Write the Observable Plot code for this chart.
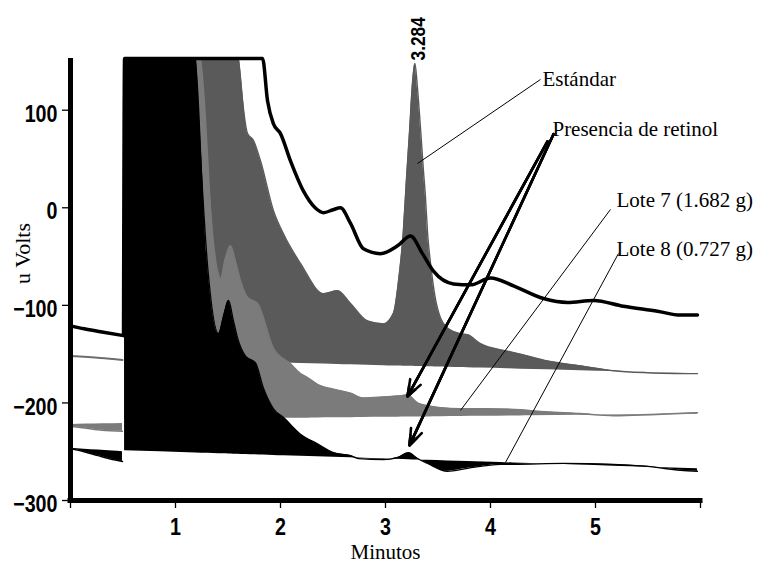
<!DOCTYPE html>
<html>
<head>
<meta charset="utf-8">
<script src="https://cdn.jsdelivr.net/npm/d3@7"></script>
<script src="https://cdn.jsdelivr.net/npm/@observablehq/plot@0.6"></script>
<style>
  html, body { margin: 0; padding: 0; background: #fff; }
</style>
</head>
<body>
<div id="chart"></div>
<script>
// ---------- axes ----------
const xTickValues = [0, 1, 2, 3, 4, 5, 6];
const xLabelValues = [1, 2, 3, 4, 5];
const yTickValues = [-300, -200, -100, 0, 100];
const xTitle = "Minutos";
const yTitle = "u Volts";

// ---------- traces: [minutos, uVolts] ----------
// upper black outline trace (unlabelled)
const trazoNegroPre = [[0, -121], [0.13, -124], [0.286, -127], [0.505, -131]];
const trazoNegro = [[0.505, -131], [0.515, 153], [1.829, 153], [1.876, 110], [1.933, 86], [2.0, 76],
  [2.095, 48], [2.219, 17], [2.33, 0], [2.41, -5], [2.5, -2], [2.571, 0], [2.667, -16], [2.79, -42], [2.952, -47],
  [3.114, -39], [3.238, -29], [3.352, -47], [3.457, -65], [3.648, -78], [3.81, -79], [4.0, -72],
  [4.219, -80], [4.505, -93], [4.733, -97], [4.981, -95], [5.267, -101], [5.59, -106], [5.81, -110], [5.971, -110]];

// Estándar (dark grey)
const estandarPre = [[0, -152], [0.286, -154], [0.495, -156]];
const estandar = [[0.515, 153], [1.6, 153], [1.686, 76], [1.743, 69], [1.81, 48], [1.933, -3], [2.029, -27],
  [2.19, -57], [2.41, -88], [2.543, -85], [2.667, -98], [2.829, -116], [2.981, -119], [3.076, -108],
  [3.124, -75], [3.17, -24], [3.2, 30], [3.23, 80], [3.255, 125], [3.28, 148], [3.305, 122], [3.335, 79],
  [3.36, 40], [3.381, 10], [3.40, -25], [3.429, -57], [3.47, -90], [3.524, -113], [3.6, -124], [3.714, -129],
  [3.781, -130], [3.9, -139], [4.162, -147], [4.286, -150], [4.543, -157], [4.857, -162], [5.171, -167],
  [5.495, -169], [5.971, -170]];
const estandarBase = [[0.515, -155], [5.971, -170]];

// Lote 7 (light grey)
const lote7Pre = [[0, -224], [0.15, -226], [0.3, -228], [0.495, -229]];
const lote7PreBase = [[0, -222], [0.495, -221]];
const lote7 = [[0.515, 153], [1.238, 153], [1.4, -65], [1.429, -73], [1.475, -52], [1.524, -39], [1.57, -55],
  [1.619, -75], [1.686, -92], [1.781, -98], [1.933, -144], [2.095, -160], [2.19, -170], [2.257, -174],
  [2.352, -181], [2.505, -186], [2.667, -190], [2.79, -195], [2.981, -194], [3.114, -193], [3.21, -192],
  [3.305, -200], [3.4, -203], [3.524, -205], [3.714, -206], [3.933, -206], [4.286, -207], [4.381, -208],
  [4.857, -211], [5.171, -213], [5.524, -212], [5.971, -210]];
const lote7Base = [[0.515, -217.5], [5.971, -211.5]];

// Lote 8 (black)
const lote8Pre = [[0, -247], [0.13, -250], [0.26, -254], [0.4, -258], [0.495, -260]];
const lote8PreBase = [[0, -246.5], [0.495, -250]];
const lote8 = [[0.515, 153], [1.19, 153], [1.31, -65], [1.41, -129], [1.46, -110], [1.505, -95], [1.55, -115],
  [1.59, -133], [1.667, -152], [1.762, -159], [1.838, -185], [1.933, -206], [2.029, -215], [2.19, -232],
  [2.352, -242], [2.505, -251], [2.667, -254], [2.743, -257], [2.981, -258], [3.114, -256], [3.219, -251],
  [3.305, -257], [3.4, -262], [3.59, -270], [3.781, -267], [4.095, -263], [4.219, -263], [4.695, -262],
  [5.171, -263], [5.495, -265], [5.81, -269], [5.971, -270]];
const lote8Base = [[0.515, -249], [5.971, -267.5]];

// ---------- annotations ----------
const picoTiempo = 3.284;
const picoAltura = 148;
const etiquetas = ["Estándar", "Presencia de retinol", "Lote 7 (1.682 g)", "Lote 8 (0.727 g)"];
const etiquetaX = [4.495, 4.59, 5.2, 5.2];
const etiquetaY = [125.3, 73.1, 1.3, -49.5];
const guiaDesde = [[4.476, 131.5], [5.143, -1.7], [5.219, -46.8]];
const guiaHasta = [[3.305, 45.4], [3.714, -207.7], [4.143, -261]];
const flechaDesde = [[4.543, 68.1], [4.6, 75.4]];
const flechaHasta = [[3.210, -193.2], [3.229, -243.5]];

// ---------- helpers ----------
function conBase(points, base) {
  const s = d3.scaleLinear().domain([base[0][0], base[1][0]]).range([base[0][1], base[1][1]]);
  return points.map(([x, y]) => ({x, y, b: s(x)}));
}
const pts = arr => arr.map(([x, y]) => ({x, y}));

const GRIS_OSCURO = "#5a5a5a";
const GRIS_CLARO = "#7b7b7b";
const fontTicks = '"Liberation Sans", Arial, sans-serif';
const fontSerif = '"Liberation Serif", "Times New Roman", serif';
const CURVA = "monotone-x";

const areaOpts = (fill) => ({x: "x", y1: "b", y2: "y", fill, curve: CURVA});
const lineOpts = (stroke, w) => ({x: "x", y: "y", stroke, strokeWidth: w, curve: CURVA, strokeLinejoin: "round"});
const flechas = (len) => Plot.arrow(d3.range(flechaDesde.length), {x1: i => flechaDesde[i][0], y1: i => flechaDesde[i][1],
  x2: i => flechaHasta[i][0], y2: i => flechaHasta[i][1], stroke: "#000", strokeWidth: 2.6,
  headLength: len, headAngle: 40});

const chart = Plot.plot({
  width: 757,
  height: 569,
  marginLeft: 70,
  marginRight: 57,
  marginTop: 58,
  marginBottom: 69,
  x: {domain: [0, 6], label: null},
  y: {domain: [-300, 153], label: null},
  marks: [
    // Estándar
    Plot.areaY(conBase(estandar, estandarBase), areaOpts(GRIS_OSCURO)),
    Plot.line(pts(estandar).slice(1), lineOpts(GRIS_OSCURO, 1.4)),
    Plot.line(pts(estandarPre), lineOpts("#6e6e6e", 2)),
    // Lote 7
    Plot.areaY(conBase(lote7Pre, lote7PreBase), areaOpts(GRIS_CLARO)),
    Plot.line(pts(lote7Pre), lineOpts(GRIS_CLARO, 1.5)),
    Plot.areaY(conBase(lote7, lote7Base), areaOpts(GRIS_CLARO)),
    Plot.line(pts(lote7).slice(1), lineOpts(GRIS_CLARO, 1.6)),
    // Lote 8
    Plot.areaY(conBase(lote8Pre, lote8PreBase), areaOpts("#000")),
    Plot.line(pts(lote8Pre), lineOpts("#000", 1.5)),
    Plot.areaY(conBase(lote8, lote8Base), areaOpts("#000")),
    Plot.line(pts(lote8).slice(1), lineOpts("#000", 1.3)),
    // upper outline trace
    Plot.line(pts(trazoNegroPre), lineOpts("#000", 3.5)),
    Plot.line(pts(trazoNegro), lineOpts("#000", 3.5)),

    // axis lines
    Plot.ruleX([0], {stroke: "#000", strokeWidth: 5}),
    Plot.ruleY([-300], {stroke: "#000", strokeWidth: 5, strokeLinecap: "square"}),
    // ticks
    Plot.axisY(yTickValues, {tickSize: 8, strokeWidth: 1.3, fill: null, label: null}),
    Plot.axisX(xTickValues, {tickSize: 8, strokeWidth: 1.3, fill: null, label: null}),
    // tick labels
    Plot.axisY(yTickValues, {tickSize: 0, tickPadding: 13, dy: 4, fontSize: 24, fontWeight: "bold",
      fontFamily: fontTicks, label: null}),
    Plot.axisX(xLabelValues, {tickSize: 0, tickPadding: 17, fontSize: 24, fontWeight: "bold",
      fontFamily: fontTicks, label: null}),
    // axis titles
    Plot.text([xTitle], {text: d => d, frameAnchor: "bottom", dy: 52, lineAnchor: "middle",
      textAnchor: "middle", fontSize: 21, fontFamily: fontSerif, fill: "#000"}),
    Plot.text([yTitle], {text: d => d, frameAnchor: "left", dx: -48, dy: -26, rotate: -90,
      lineAnchor: "middle", textAnchor: "middle", fontSize: 22, fontFamily: fontSerif, fill: "#000"}),

    // peak label
    Plot.text([picoTiempo], {x: d => d, y: () => picoAltura, text: d => d.toFixed(3), rotate: -90,
      textAnchor: "start", lineAnchor: "middle", dx: 3, dy: -3, fontSize: 21, fontWeight: "bold",
      fontFamily: fontTicks, fill: "#000"}),

    // leader lines
    Plot.link(d3.range(guiaDesde.length), {x1: i => guiaDesde[i][0], y1: i => guiaDesde[i][1],
      x2: i => guiaHasta[i][0], y2: i => guiaHasta[i][1], stroke: "#000", strokeWidth: 1}),
    // arrows (nested heads to fill the tip)
    flechas(10), flechas(6), flechas(3),
    // labels
    Plot.text(d3.range(etiquetas.length), {x: i => etiquetaX[i], y: i => etiquetaY[i], text: i => etiquetas[i],
      textAnchor: "start", lineAnchor: "bottom", fontSize: 21, fontFamily: fontSerif, fill: "#000"})
  ]
});
document.getElementById("chart").appendChild(chart);

// condense the bold sans labels (reference uses a narrow bold face)
const condensar = (t) => {
  const w = t.getComputedTextLength();
  t.setAttribute("textLength", (w * 0.82).toFixed(2));
  t.setAttribute("lengthAdjust", "spacingAndGlyphs");
};
chart.querySelectorAll('g[aria-label="y-axis tick label"] text, g[aria-label="x-axis tick label"] text').forEach(condensar);
chart.querySelectorAll('g[aria-label="text"] text').forEach(t => {
  if (t.textContent === picoTiempo.toFixed(3)) condensar(t);
});
</script>
</body>
</html>
